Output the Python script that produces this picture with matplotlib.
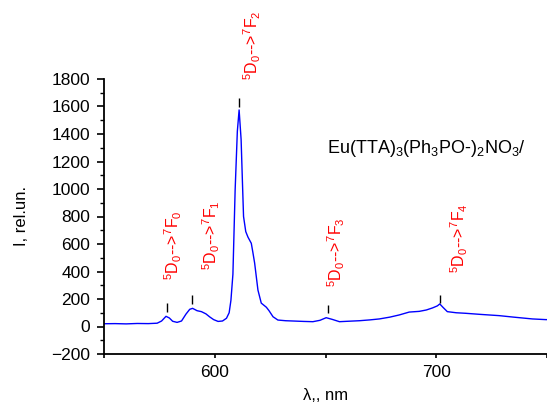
import matplotlib
matplotlib.use("Agg")
import matplotlib.pyplot as plt
from matplotlib.ticker import MultipleLocator

plt.rcParams["font.family"] = ["Liberation Sans", "DejaVu Sans"]
plt.rcParams["mathtext.fontset"] = "custom"
plt.rcParams["mathtext.rm"] = "Liberation Sans"
plt.rcParams["mathtext.it"] = "Liberation Sans:italic"
plt.rcParams["mathtext.bf"] = "Liberation Sans:bold"

# spectrum
wavelength = [550, 555, 560, 565, 570, 574, 576, 578, 579.5, 581, 583, 585,
              587, 588.7, 590, 592, 594, 596, 597.7, 599.5, 601.5, 603.5,
              605.3, 606.5, 607.3, 608.2, 609.2, 610.2, 611, 611.9, 612.5,
              613, 614, 615, 616.5, 617.2, 618, 619.5, 621, 623.3, 624.5,
              626.3, 628.5, 632, 635.3, 640, 644.3, 647.5, 650.3, 653, 656.3,
              660, 665.3, 670, 674.3, 679, 683.3, 687.8, 692.3, 695.5, 698.3,
              700.5, 701.6, 703, 705, 709, 713.3, 720, 728.4, 735, 743.4,
              749.5, 755]
intensity = [20, 21, 19, 22, 21, 24, 40, 74, 62, 38, 30, 40,
             90, 125, 132, 115, 108, 92, 70, 50, 37, 40,
             60, 100, 190, 380, 990, 1420, 1575, 1360, 1050,
             800, 690, 650, 605, 540, 462, 265, 170, 140, 115,
             71, 47, 42, 40, 37, 35, 45, 64, 52, 35,
             38, 42, 48, 55, 68, 84, 105, 110, 120, 135,
             150, 164, 140, 108, 100, 96, 88, 79, 68, 55,
             50, 50]

# transitions
trans_labels = [r"$^5$D$_0$-->$^7$F$_0$", r"$^5$D$_0$-->$^7$F$_1$",
                r"$^5$D$_0$-->$^7$F$_2$", r"$^5$D$_0$-->$^7$F$_3$",
                r"$^5$D$_0$-->$^7$F$_4$"]
label_x = [581.1, 598.6, 617.1, 655.0, 710.4]
label_y = [338, 411, 1793, 287, 389]
mark_x = [578.4, 589.6, 610.8, 651.0, 701.8]
mark_lo = [105, 162, 1596, 98, 171]
mark_hi = [171, 229, 1662, 156, 229]

compound = r"Eu(TTA)$_3$(Ph$_3$PO-)$_2$NO$_3$/"

fig = plt.figure(figsize=(5.47, 4.05), dpi=100)
ax = fig.add_axes([104 / 547, 1 - 354 / 405, 1 - 104 / 547, 275 / 405])

ax.plot(wavelength, intensity, color="#0000ff", linewidth=1.0)
ax.vlines(mark_x, mark_lo, mark_hi, color="black", linewidth=1.0)

for lx, ly, txt in zip(label_x, label_y, trans_labels):
    ax.text(lx, ly, txt, rotation=90, ha="center", va="bottom",
            color="red", fontsize=11.5, clip_on=False)

ax.text(650.9, 1262, compound, fontsize=13, ha="left", va="baseline",
        clip_on=False)

ax.set_xlim(550, 750)
ax.set_ylim(-200, 1800)
ax.xaxis.set_major_locator(MultipleLocator(100))
ax.xaxis.set_minor_locator(MultipleLocator(50))
ax.yaxis.set_major_locator(MultipleLocator(200))
ax.yaxis.set_minor_locator(MultipleLocator(100))

ax.spines["top"].set_visible(False)
ax.spines["right"].set_visible(False)
ax.spines["left"].set_linewidth(1.3)
ax.spines["bottom"].set_linewidth(1.3)

ax.tick_params(axis="y", which="major", direction="out", length=5, width=1.2,
               labelsize=12.5, pad=5)
ax.tick_params(axis="y", which="minor", direction="out", length=3, width=1.0)
ax.tick_params(axis="x", which="both", direction="out", length=3, width=1.2,
               labelsize=12.5, pad=5)

ax.set_ylabel("I, rel.un.", fontsize=12, labelpad=16)
ax.set_xlabel("λ,, nm", fontsize=12, labelpad=6)

fig.savefig("out.png", dpi=100)
